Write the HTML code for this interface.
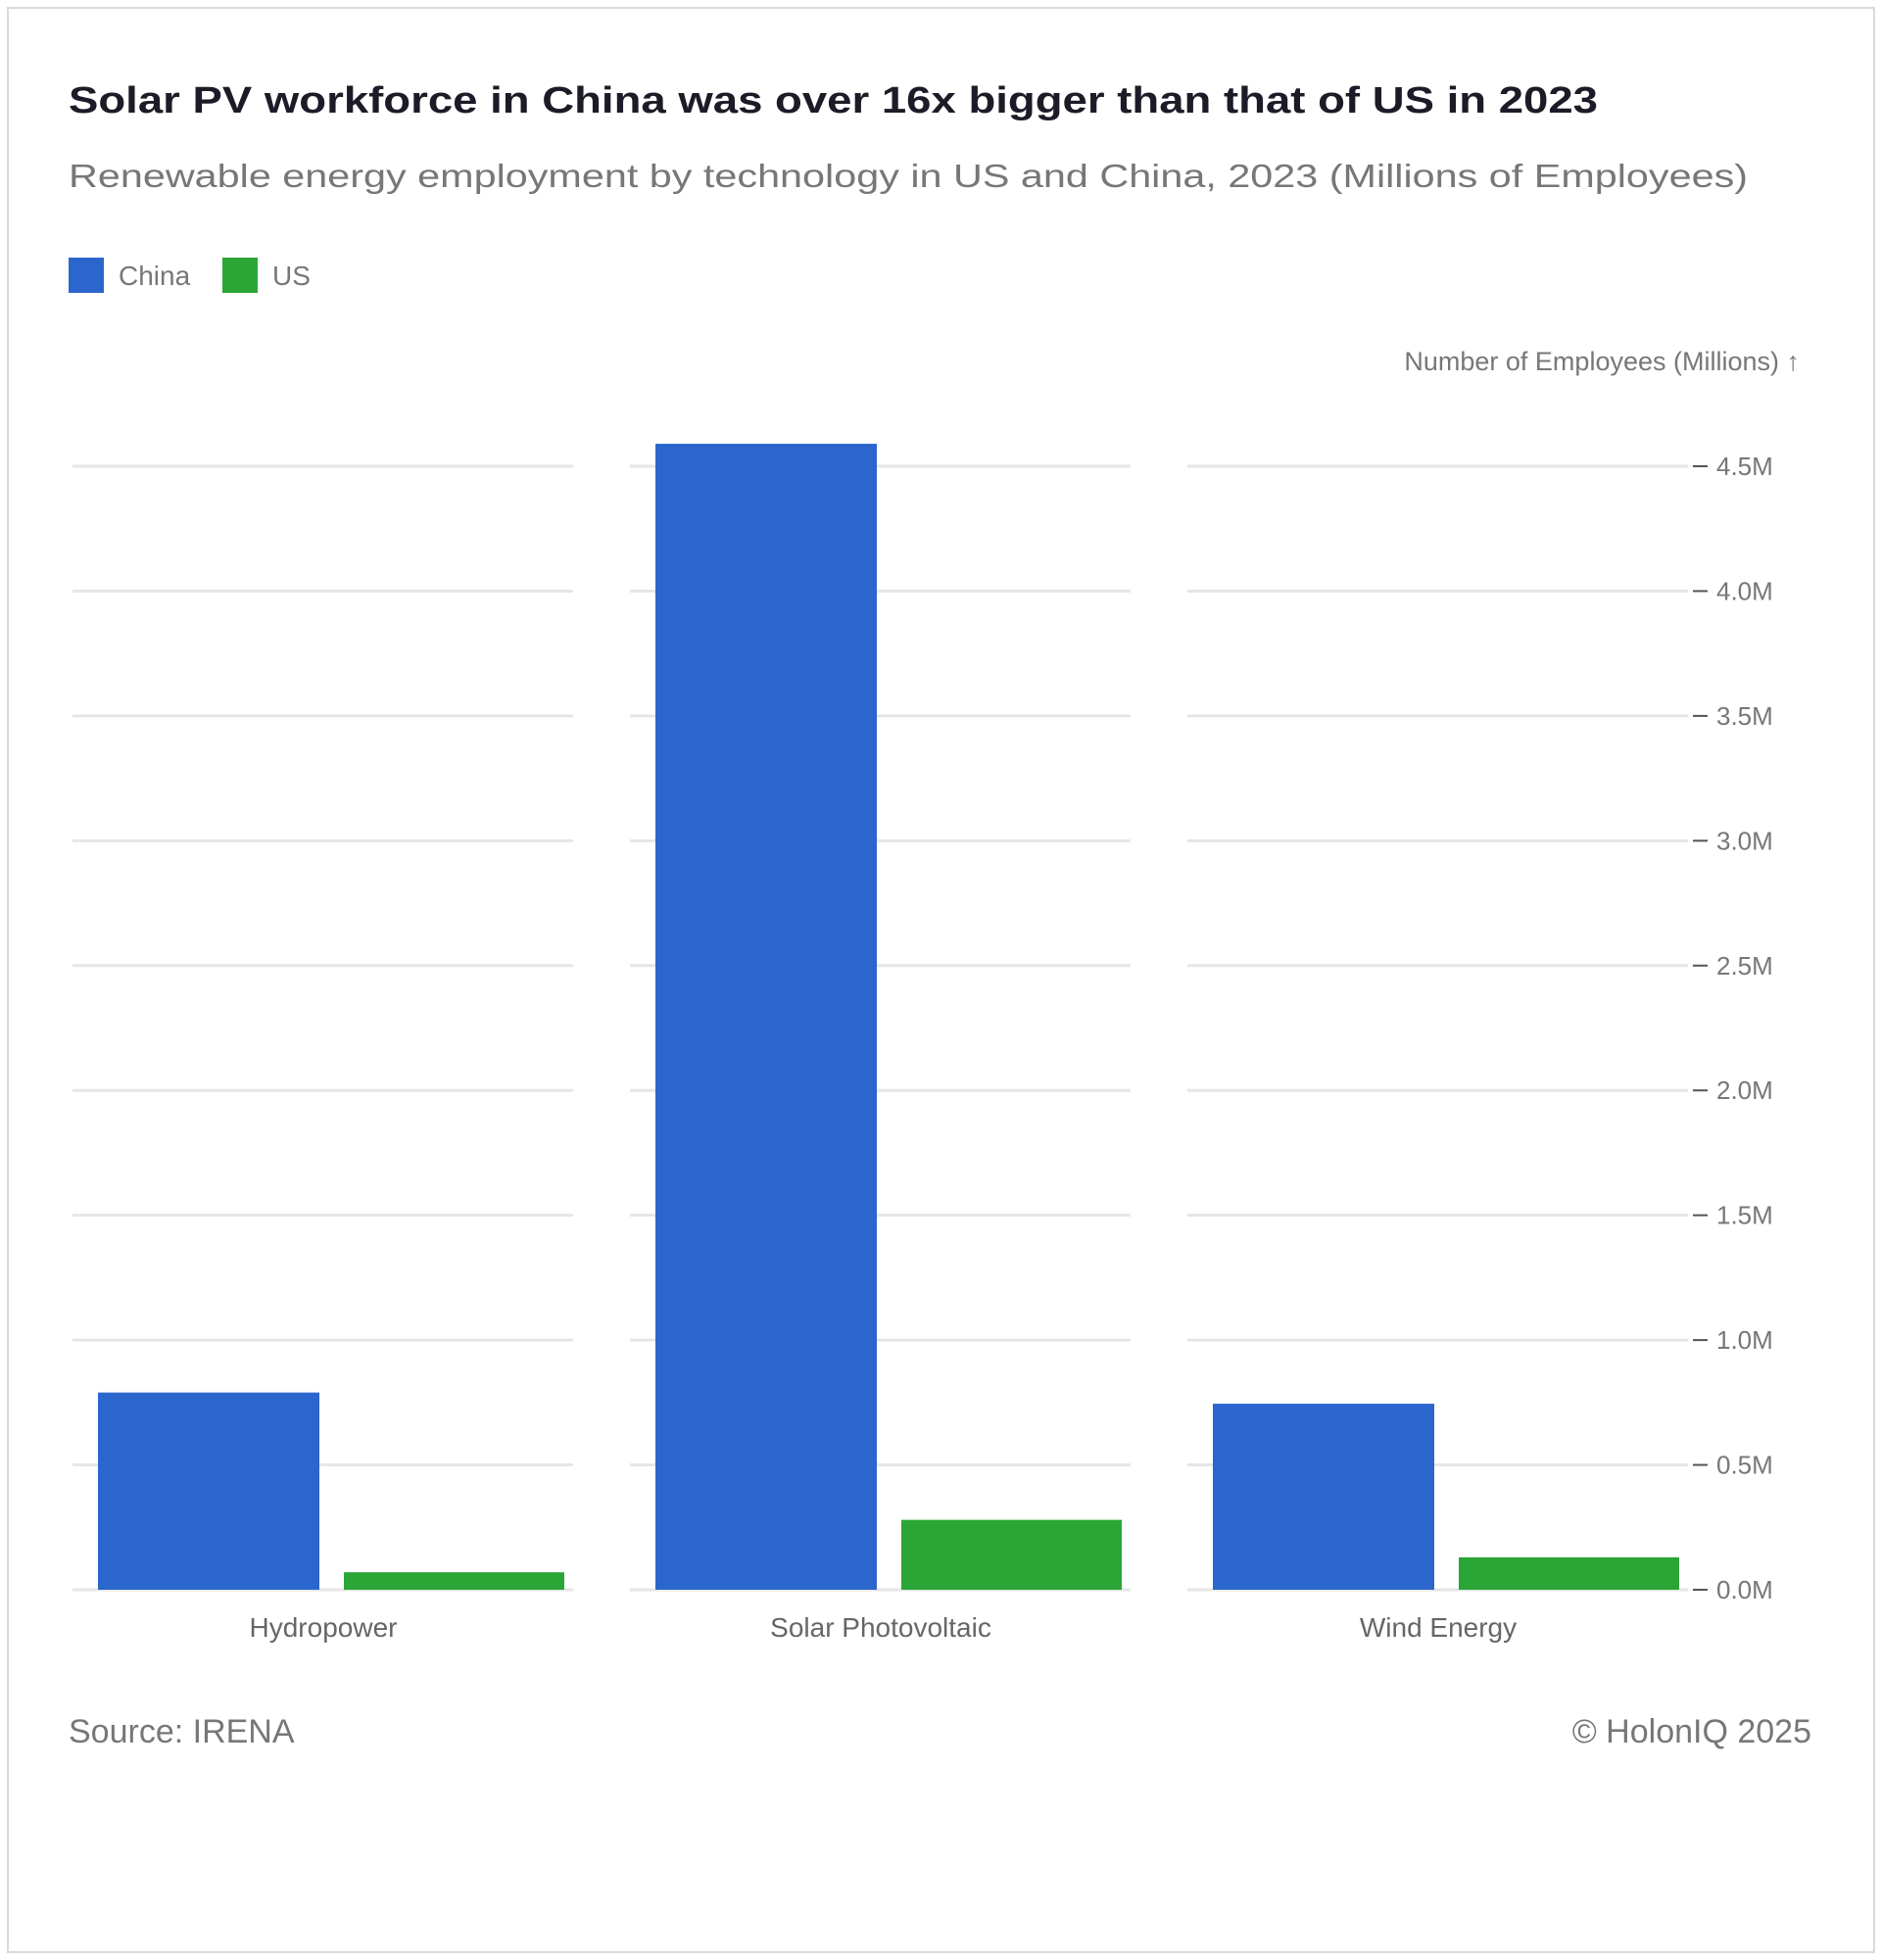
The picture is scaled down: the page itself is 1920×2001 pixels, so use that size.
<!DOCTYPE html>
<html><head><meta charset="utf-8"><style>
html,body{margin:0;padding:0;background:#fff;}
svg{display:block;font-family:"Liberation Sans",sans-serif;}
</style></head><body>
<svg id="chart" width="1920" height="2001" viewBox="0 0 1920 2001">
<rect x="8" y="8" width="1905" height="1985" fill="#fff" stroke="#d9d9d9" stroke-width="2"/>
<text x="70" y="115" font-size="38" font-weight="bold" fill="#1c1c28" textLength="1561" lengthAdjust="spacingAndGlyphs">Solar PV workforce in China was over 16x bigger than that of US in 2023</text>
<text x="70" y="191" font-size="33" fill="#777" textLength="1714" lengthAdjust="spacingAndGlyphs">Renewable energy employment by technology in US and China, 2023 (Millions of Employees)</text>
<g>
<rect x="70" y="263" width="36" height="36" fill="#2b66cc"/>
<text x="121" y="291" font-size="28" fill="#777">China</text>
<rect x="227" y="263" width="36" height="36" fill="#2ba636"/>
<text x="278" y="291" font-size="28" fill="#777">US</text>
</g>
<text x="1837" y="378" font-size="27" fill="#777" text-anchor="end">Number of Employees (Millions) ↑</text>
<g id="grid"></g><g id="bars"></g><g id="labels"></g>
<text x="70" y="1779" font-size="34" fill="#777">Source: IRENA</text>
<text x="1849" y="1779" font-size="34" fill="#777" text-anchor="end">© HolonIQ 2025</text>
</svg>
<script>
const categories = ["Hydropower", "Solar Photovoltaic", "Wind Energy"];
const chinaValues = [0.79, 4.59, 0.745];
const usValues = [0.07, 0.28, 0.13];
const tickValues = [0, 0.5, 1, 1.5, 2, 2.5, 3, 3.5, 4, 4.5];
const tickLabels = ["0.0M","0.5M","1.0M","1.5M","2.0M","2.5M","3.0M","3.5M","4.0M","4.5M"];

const NS = "http://www.w3.org/2000/svg";
const y0 = 1623, yTop = 476, vMax = 4.5;
const y = v => y0 - (v / vMax) * (y0 - yTop);
const groupStart = 74, groupW = 569;
const gx = i => groupStart + i * groupW;
function mk(tag, attrs, parent){const e=document.createElementNS(NS,tag);for(const k in attrs)e.setAttribute(k,attrs[k]);parent.appendChild(e);return e;}
const grid = document.getElementById("grid"), bars = document.getElementById("bars"), labels = document.getElementById("labels");
tickValues.forEach((t, j) => {
  categories.forEach((c, i) => {
    const l = mk("line", {x1: gx(i), x2: gx(i) + 511, y1: y(t), y2: y(t), stroke: "#e6e6e6", "stroke-width": 3}, grid);
    
    
  });
  const tk = mk("line", {x1: 1728, x2: 1743, y1: y(t), y2: y(t), stroke: "#555", "stroke-width": 2}, grid);
  
  
  const tl = mk("text", {x: 1752, y: y(t) + 9, "font-size": 26, fill: "#777"}, grid);
  tl.textContent = tickLabels[j];
  
  
});
categories.forEach((c, i) => {
  const bc = mk("rect", {x: gx(i) + 26, y: y(chinaValues[i]), width: 226, height: y0 - y(chinaValues[i]), fill: "#2b66cc"}, bars);
  
  
  const bu = mk("rect", {x: gx(i) + 277, y: y(usValues[i]), width: 225, height: y0 - y(usValues[i]), fill: "#2ba636"}, bars);
  
  
  const t = mk("text", {x: gx(i) + 256, y: 1671, "font-size": 28, fill: "#666", "text-anchor": "middle"}, labels);
  t.textContent = c;
  
  
});
</script>
</body></html>
